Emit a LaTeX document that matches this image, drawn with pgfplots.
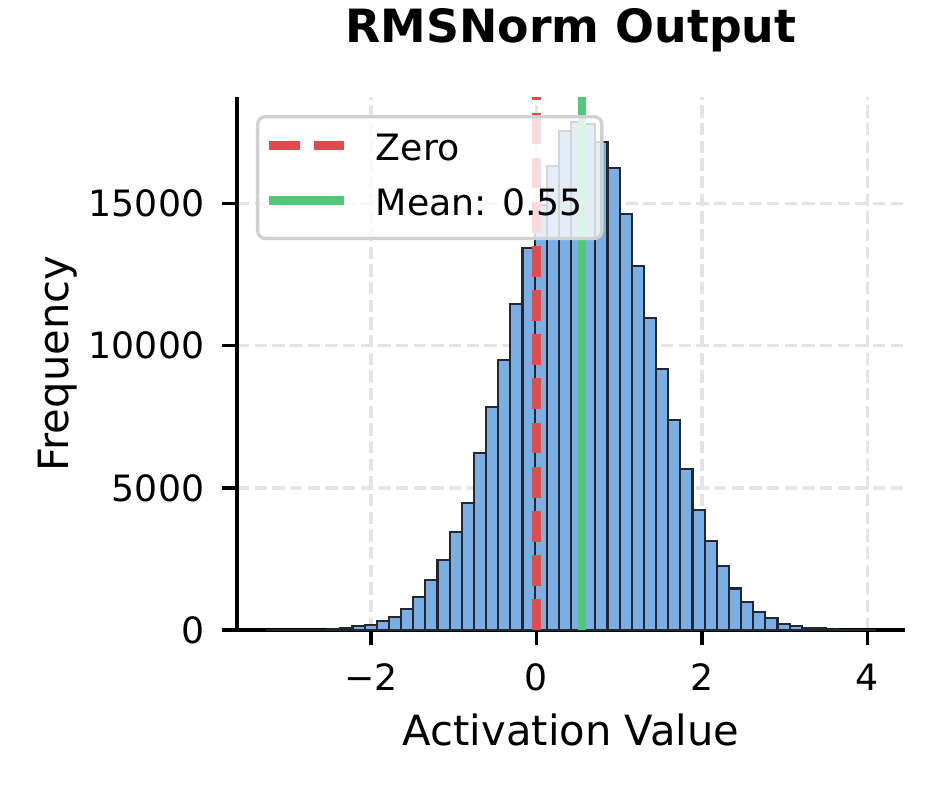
\documentclass[border=0pt]{standalone}
\usepackage{fontspec}
\setmainfont{DejaVu Sans}
\usepackage{pgfplots}
\pgfplotsset{compat=1.18}
\definecolor{barfill}{RGB}{123,174,227}
\definecolor{baredge}{RGB}{35,40,48}
\definecolor{zerored}{RGB}{220,78,78}
\definecolor{meangreen}{RGB}{80,200,120}
\definecolor{gridgray}{RGB}{228,228,228}
\pgfplotsset{
  layers/mylayers/.define layer set={axis background,axis grid,pre main,main,axis ticks,axis lines,axis tick labels,axis descriptions,axis foreground}{},
}
\begin{document}
\begin{tikzpicture}
\begin{axis}[
  set layers=mylayers,
  at={(0,0)}, anchor=south west,
  width=160.3pt, height=127.9pt, scale only axis,
  xmin=-3.6215, xmax=4.4559, ymin=0, ymax=18750,
  axis x line*=bottom, axis y line*=left,
  axis line style={line width=0.8pt, black},
  tick align=outside, major tick length=3.5pt,
  tick style={line width=0.8pt, black},
  scaled y ticks=false, scaled x ticks=false,
  xtick={-2,0,2,4}, xticklabels={−2,0,2,4},
  ytick={0,5000,10000,15000}, yticklabels={0,5000,10000,15000},
  tick label style={font=\fontsize{8.7}{10}\selectfont},
  xticklabel style={anchor=base, inner sep=0pt, yshift=-10.9pt},
  yticklabel style={anchor=east, inner sep=0pt, xshift=-4.18pt},
  grid=major,
  major grid style={gridgray, line width=0.8pt, dash pattern=on 2.96pt off 1.28pt},
  title={RMSNorm Output},
  title style={font=\bfseries\fontsize{11}{13}\selectfont, at={(axis description cs:0.5,1.0563)}, anchor=base, inner sep=0pt},
  xlabel={Activation Value},
  ylabel={Frequency},
  label style={font=\fontsize{10}{12}\selectfont},
  xlabel style={at={(axis description cs:0.5,-0.2158)}, anchor=base, inner sep=0pt},
  ylabel style={at={(axis description cs:-0.2530,0.5)}, anchor=base, inner sep=0pt},
  legend cell align=left,
  legend style={
    at={(axis description cs:0.02844,0.9662)}, anchor=north west,
    draw=black!18, line width=0.8pt, rounded corners=1.8pt,
    fill=white, fill opacity=0.8, text opacity=1,
    inner xsep=1.83pt, inner ysep=2.5pt,
    font=\fontsize{8.7}{10}\selectfont,
    cells={anchor=base west},
    nodes={inner sep=0pt, text height=8.04pt, text depth=2.97pt},
    row sep=2.19pt, column sep=6.55pt,
  },
  legend image code/.code={\draw[#1] (0pt,3.65pt) -- (18pt,3.65pt);},
]
\addplot[ybar interval, fill=barfill, draw=baredge, line width=0.5pt, forget plot] coordinates {
(-3.2530,1) (-3.1062,0) (-2.9593,2) (-2.8125,5) (-2.6656,10) (-2.5188,35)
(-2.3720,65) (-2.2251,130) (-2.0783,170) (-1.9314,330) (-1.7846,450)
(-1.6378,750) (-1.4909,1170) (-1.3441,1750) (-1.1972,2470) (-1.0504,3435)
(-0.9036,4480) (-0.7567,6235) (-0.6099,7850) (-0.4630,9505) (-0.3162,11475)
(-0.1694,13440) (-0.0225,14950) (0.1243,16315) (0.2712,17555) (0.4180,17860)
(0.5648,17800) (0.7117,17170) (0.8585,16255) (1.0054,14625) (1.1522,12800)
(1.2990,10980) (1.4459,9180) (1.5927,7385) (1.7396,5670) (1.8864,4220)
(2.0332,3140) (2.1801,2260) (2.3269,1460) (2.4738,985) (2.6206,635)
(2.7674,430) (2.9143,200) (3.0611,140) (3.2080,80) (3.3548,55)
(3.5016,25) (3.6485,12) (3.7953,5) (3.9422,2) (4.0890,2)
};
\addplot[zerored, line width=2pt, dash pattern=on 7.4pt off 3.2pt] coordinates {(0,0) (0,18750)};
\addlegendentry{Zero}
\addplot[meangreen, line width=2pt] coordinates {(0.55,0) (0.55,18750)};
\addlegendentry{Mean: 0.55\rule{2.7pt}{0pt}}
\end{axis}
\pgfresetboundingbox
\path[use as bounding box] (-56.88pt,-36.96pt) rectangle (167.28pt,151.2pt);
\end{tikzpicture}
\end{document}
